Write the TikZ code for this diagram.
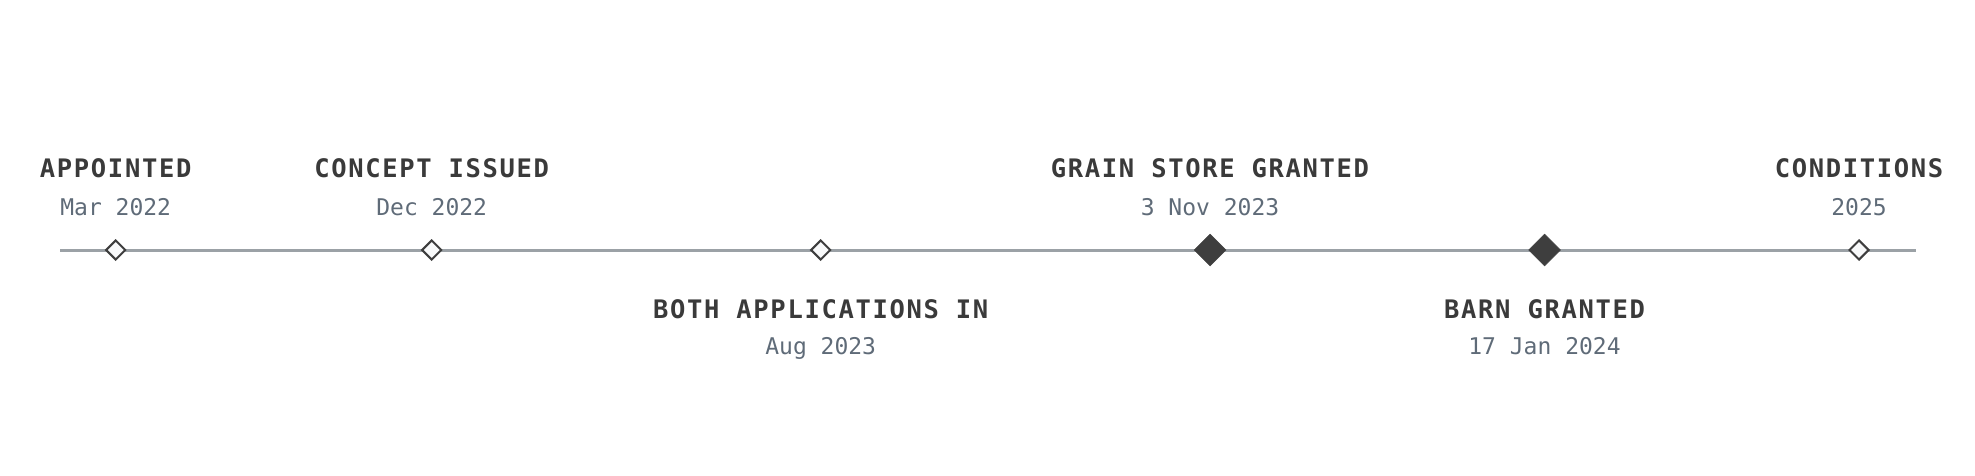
\documentclass[tikz,border=0pt]{standalone}
\usepackage{fontspec}
\usetikzlibrary{shapes.geometric}
\newfontfamily\titlefont[LetterSpace=6.5]{DejaVu Sans Mono}
\newfontfamily\datefont{DejaVu Sans Mono}
\definecolor{ink}{HTML}{3A3A3A}
\definecolor{datec}{HTML}{5F6B78}
\definecolor{axisc}{HTML}{9BA1A6}
\definecolor{mk}{HTML}{3E3E3E}
\definecolor{mkfill}{HTML}{F8F9FA}
\tikzset{
  ttl/.style={font=\titlefont\bfseries\fontsize{25.5}{30}\selectfont, text=ink, anchor=base, inner sep=0pt},
  dte/.style={font=\datefont\fontsize{23}{28}\selectfont, text=datec, anchor=base, inner sep=0pt},
  openmk/.style={diamond, draw=mk, fill=mkfill, line width=2pt, inner sep=0pt, minimum width=20pt, minimum height=20pt},
  fullmk/.style={diamond, draw=mk, fill=mk, line width=0.5pt, inner sep=0pt, minimum width=32pt, minimum height=32pt},
}
\begin{document}
\begin{tikzpicture}[x=1pt,y=1pt]
\useasboundingbox (0,0) rectangle (1975,475);
\coordinate (axL) at (60,225);
\coordinate (axR) at (1916,225);
\draw[axisc, line width=3pt] (axL) -- (axR);
% markers
\node[openmk] (m1) at (115.7,225) {};
\node[openmk] (m2) at (431.7,225) {};
\node[openmk] (m3) at (820.7,225) {};
\node[fullmk] (m4) at (1210,225) {};
\node[fullmk] (m5) at (1544.5,225) {};
\node[openmk] (m6) at (1859,225) {};
% labels above
\node[ttl] (t1) at (115.7,297.3) {APPOINTED};
\node[dte] (d1) at (115.7,260) {Mar 2022};
\node[ttl] (t2) at (431.7,297.3) {CONCEPT ISSUED};
\node[dte] (d2) at (431.7,260) {Dec 2022};
\node[ttl] (t4) at (1210,297.3) {GRAIN STORE GRANTED};
\node[dte] (d4) at (1210,260) {3 Nov 2023};
\node[ttl] (t6) at (1859,297.3) {CONDITIONS};
\node[dte] (d6) at (1859,260) {2025};
% labels below
\node[ttl] (t3) at (820.7,156.7) {BOTH APPLICATIONS IN};
\node[dte] (d3) at (820.7,121) {Aug 2023};
\node[ttl] (t5) at (1544.5,156.7) {BARN GRANTED};
\node[dte] (d5) at (1544.5,121) {17 Jan 2024};
\end{tikzpicture}
\end{document}
